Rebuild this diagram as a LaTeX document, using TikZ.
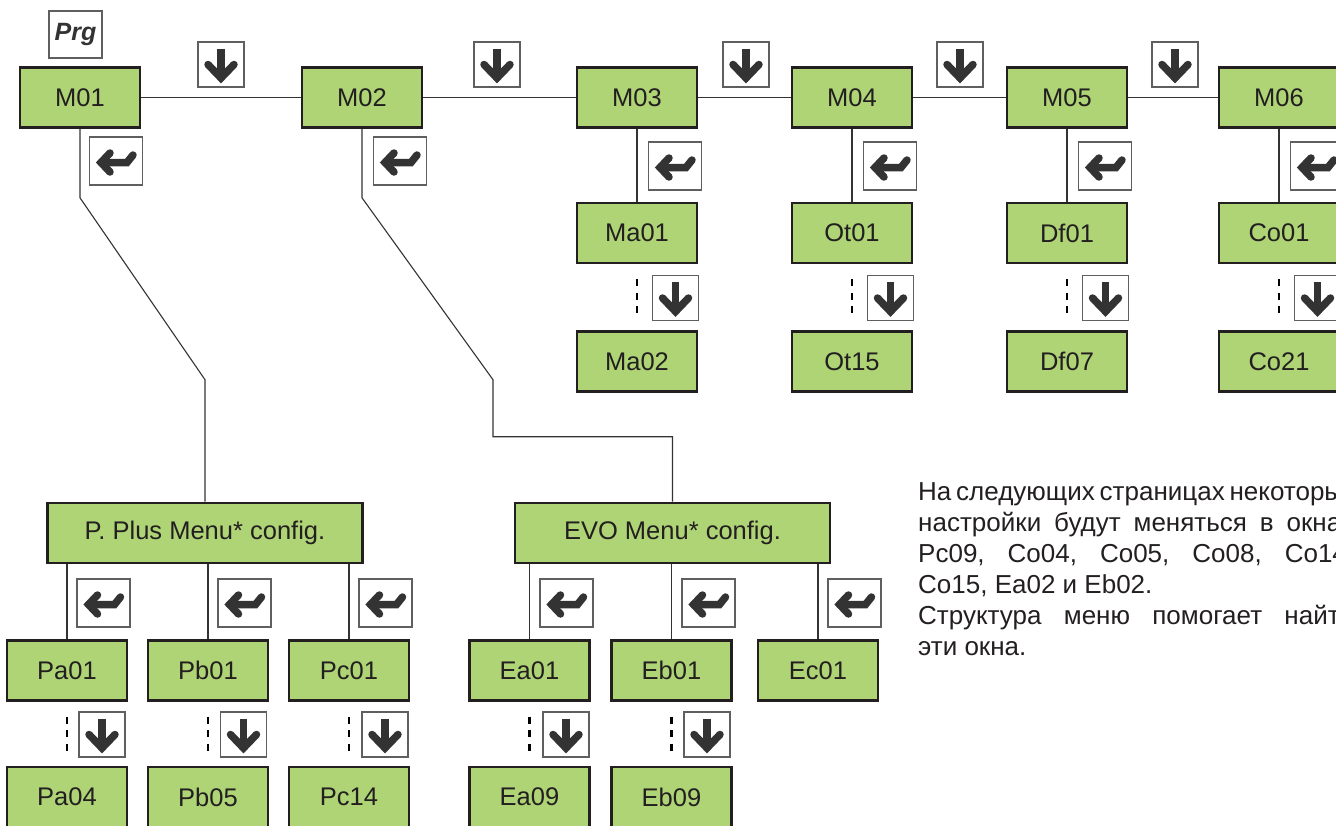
\documentclass[tikz,border=0pt]{standalone}
\usepackage{fontspec}
\setmainfont{Liberation Sans}
\usepackage{tikz}
\usetikzlibrary{positioning}
\usepackage{xcolor}
\definecolor{lcdgreen}{RGB}{174,212,118}
\definecolor{boxdark}{RGB}{35,31,32}
\definecolor{icondark}{RGB}{51,51,51}
\definecolor{keygray}{RGB}{95,95,95}

\tikzset{
  menubox/.style={draw=boxdark, line width=2.6pt, fill=lcdgreen, minimum width=120pt, minimum height=60pt, inner sep=0pt, text=boxdark, font=\fontsize{25.5}{30}\selectfont},
  widebox/.style={menubox, minimum width=315pt},
  keybox/.style={draw=keygray, line width=1.1pt, fill=white, inner sep=0pt},
  icon/.style={draw=icondark, line width=7.5pt},
  downkey/.style={keybox, minimum width=46pt, minimum height=45pt, path picture={
    \begin{scope}[shift={(path picture bounding box.center)}]
      \draw[icon] (0,-16) -- (0,10);
      \draw[icon, line cap=round] (-13,0) -- (0,13.5) -- (13,0);
    \end{scope}}},
  enterkey/.style={keybox, minimum width=53pt, minimum height=48pt, path picture={
    \begin{scope}[shift={(path picture bounding box.center)}]
      \draw[icon, line cap=round] (-6,-8) -- (-15,1.5) -- (-6,11);
      \draw[icon, line cap=round] (-14,1.5) -- (11,1.5) -- (17,-6);
    \end{scope}}},
  link/.style={draw=icondark, line width=1.1pt},
  dashline/.style={draw=black, line width=2.2pt, dash pattern=on 7pt off 6.5pt, shorten <=15pt, shorten >=14pt}
}

\begin{document}
\begin{tikzpicture}[x=1pt, y=-1pt]
\useasboundingbox (0,0) rectangle (1336,825);
\clip (0,0) rectangle (1336,825);

\node[keybox, minimum width=53pt, minimum height=47pt, text=icondark, font=\fontsize{25}{30}\selectfont\bfseries\itshape] (prg) at (75.5,34.5) {Prg};

\node[menubox] (m01) at (80,97.5) {M01};
\node[menubox] (m02) at (362,97.5) {M02};
\node[menubox] (m03) at (637,97.5) {M03};
\node[menubox] (m04) at (852,97.5) {M04};
\node[menubox] (m05) at (1067,97.5) {M05};
\node[menubox] (m06) at (1279,97.5) {M06};

\draw[link] (m01) -- (m02) -- (m03) -- (m04) -- (m05) -- (m06);

\node[downkey] (dk1) at (221,64.5) {};
\node[downkey] (dk2) at (497,64.5) {};
\node[downkey] (dk3) at (746,64.5) {};
\node[downkey] (dk4) at (960,64.5) {};
\node[downkey] (dk5) at (1175,64.5) {};

\node[enterkey] (ek1) at (116,161) {};
\node[enterkey] (ek2) at (400,161) {};
\node[enterkey] (ek3) at (675,166) {};
\node[enterkey] (ek4) at (890,166) {};
\node[enterkey] (ek5) at (1105,166) {};
\node[enterkey] (ek6) at (1317,166) {};

\node[menubox] (ma01) at (637,233) {Ma01};
\node[menubox] (ot01) at (852,233) {Ot01};
\node[menubox] (df01) at (1067,233) {Df01};
\node[menubox] (co01) at (1279,233) {Co01};

\node[menubox] (ma02) at (637,361.5) {Ma02};
\node[menubox] (ot15) at (852,361.5) {Ot15};
\node[menubox] (df07) at (1067,361.5) {Df07};
\node[menubox] (co21) at (1279,361.5) {Co21};

\draw[link] (m03) -- (ma01);
\draw[link] (m04) -- (ot01);
\draw[link] (m05) -- (df01);
\draw[link] (m06) -- (co01);

\draw[dashline] (ma01) -- (ma02);
\draw[dashline] (ot01) -- (ot15);
\draw[dashline] (df01) -- (df07);
\draw[dashline] (co01) -- (co21);

\node[downkey] (dk6) at (675.5,298) {};
\node[downkey] (dk7) at (890.5,298) {};
\node[downkey] (dk8) at (1105.5,298) {};
\node[downkey] (dk9) at (1317.5,298) {};

\node[widebox] (pplus) at (205,533) {P. Plus Menu* config.};
\node[widebox] (evo) at (672.5,533) {EVO Menu* config.};

\draw[link] (m01.south) -- ([yshift=-69pt]m01.south) -- ([yshift=122pt]pplus.north) -- (pplus.north);
\draw[link] (m02.south) -- ([yshift=-69pt]m02.south) -- ([xshift=-179.5pt, yshift=122pt]evo.north) -- ([xshift=-179.5pt, yshift=65pt]evo.north) -- ([yshift=65pt]evo.north) -- (evo.north);

\node[menubox] (pa01) at (67,670.5) {Pa01};
\node[menubox] (pb01) at (208,670.5) {Pb01};
\node[menubox] (pc01) at (349,670.5) {Pc01};
\node[menubox] (ea01) at (529.5,670.5) {Ea01};
\node[menubox] (eb01) at (671.5,670.5) {Eb01};
\node[menubox] (ec01) at (818,670.5) {Ec01};

\draw[link] (pa01.north) -- (pa01.north |- pplus.south);
\draw[link] (pb01.north) -- (pb01.north |- pplus.south);
\draw[link] (pc01.north) -- (pc01.north |- pplus.south);
\draw[link] (ea01.north) -- (ea01.north |- evo.south);
\draw[link] (eb01.north) -- (eb01.north |- evo.south);
\draw[link] (ec01.north) -- (ec01.north |- evo.south);

\node[enterkey] (ek7) at (103.5,603) {};
\node[enterkey] (ek8) at (244.5,603) {};
\node[enterkey] (ek9) at (385.5,603) {};
\node[enterkey] (ek10) at (566.5,603) {};
\node[enterkey] (ek11) at (708.5,603) {};
\node[enterkey] (ek12) at (854.5,603) {};

\node[menubox] (pa04) at (67,797) {Pa04};
\node[menubox] (pb05) at (208,797) {Pb05};
\node[menubox] (pc14) at (349,797) {Pc14};
\node[menubox] (ea09) at (529.5,797) {Ea09};
\node[menubox] (eb09) at (671.5,797) {Eb09};

\draw[dashline] (pa01) -- (pa04);
\draw[dashline] (pb01) -- (pb05);
\draw[dashline] (pc01) -- (pc14);
\draw[dashline] (ea01) -- (ea09);
\draw[dashline] (eb01) -- (eb09);

\node[downkey] (dk10) at (102,734.5) {};
\node[downkey] (dk11) at (243.5,734.5) {};
\node[downkey] (dk12) at (385,734.5) {};
\node[downkey] (dk13) at (566,734.5) {};
\node[downkey] (dk14) at (707,734.5) {};

\node[anchor=base west, inner sep=0pt, text=boxdark, font=\fontsize{26}{31}\selectfont] (note) at (918,500) {\begin{minipage}[t]{436pt}
\noindent\makebox[\linewidth][s]{На следующих страницах некоторые}\\
\makebox[\linewidth][s]{настройки будут меняться в окнах}\\
\makebox[\linewidth][s]{Pc09, Co04, Co05, Co08, Co14,}\\
Co15, Ea02 и Eb02.\\
\makebox[\linewidth][s]{Структура меню помогает найти}\\
эти окна.
\end{minipage}};
\end{tikzpicture}
\end{document}
